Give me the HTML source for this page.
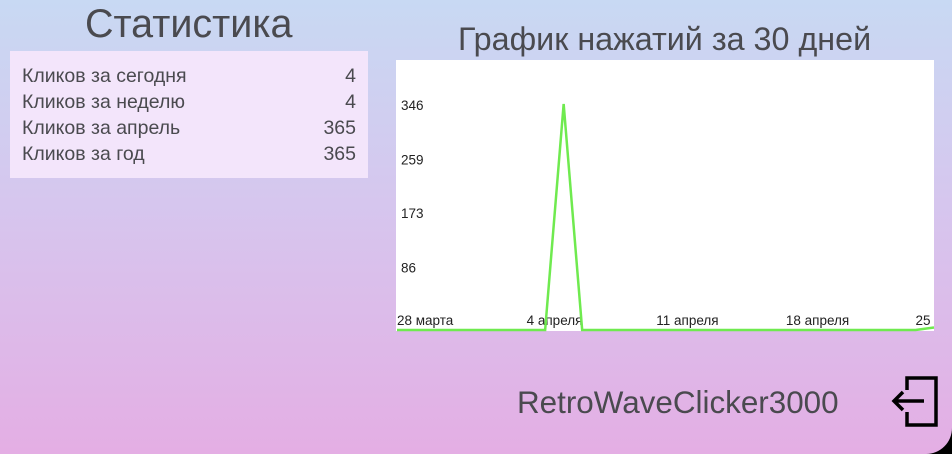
<!DOCTYPE html>
<html><head><meta charset="utf-8"><style>
body{margin:0;width:952px;height:454px;overflow:hidden;position:relative;font-family:"Liberation Sans","Noto Sans CJK SC",sans-serif;background:#000}
#bg{position:absolute;left:0;top:0;width:952px;height:454px;border-bottom-right-radius:26px;background:linear-gradient(180deg,#c8d9f3 0%,#d6c6ee 45%,#e4aee4 100%)}
.t{position:absolute;color:#4a4a4f;white-space:nowrap}
#stats{position:absolute;left:10px;top:51px;width:358px;height:127px;background:#f3e5fb}
.row{position:absolute;left:12px;width:334px;font-size:19.5px;color:#4a4a4f}
.row span{position:absolute;right:0}
</style></head><body>
<div id="bg"></div>
<div class="t" style="left:85px;top:2px;font-size:39.5px">Статистика</div>
<div id="stats">
<div class="row" style="top:14px">Кликов за сегодня<span>4</span></div>
<div class="row" style="top:40px">Кликов за неделю<span>4</span></div>
<div class="row" style="top:66px">Кликов за апрель<span>365</span></div>
<div class="row" style="top:92px">Кликов за год<span>365</span></div>
</div>
<div class="t" style="left:458px;top:21px;font-size:32.3px">График нажатий за 30 дней</div>
<svg id="chart" style="position:absolute;left:0;top:0" width="952" height="454"></svg>
<div class="t" style="left:517px;top:385px;font-size:31.4px">RetroWaveClicker3000</div>
<svg style="position:absolute;left:890px;top:374px" width="50" height="56">
<path d="M17 16 V4 H46 V51 H17 V38" fill="none" stroke="#000" stroke-width="3.5"/>
<path d="M4 27 H34 M13 18 L4 27 L13 36" fill="none" stroke="#000" stroke-width="3.5"/>
</svg>
<script>
const values=[0,0,0,0,0,0,0,0,0,361,0,0,0,0,0,0,0,0,0,0,0,0,0,0,0,0,0,0,0,4];
const yTicks=[86,173,259,346];
const xLabels=["28 марта","4 апреля","11 апреля","18 апреля","25"];
const xLabelIdx=[0,7,14,21,28];
const NS="http://www.w3.org/2000/svg";
const svg=document.getElementById('chart');
const L=396,R=934,T=60,B=331;
const x=i=>L+1+i*(R-L-1)/(values.length-1);
const y=v=>330-v*(226/361);
const yl=v=>321-v*(54/86.5);
const bg=document.createElementNS(NS,'rect');
bg.setAttribute('x',L);bg.setAttribute('y',T);bg.setAttribute('width',R-L);bg.setAttribute('height',B-T);bg.setAttribute('fill','#fff');


svg.appendChild(bg);
yTicks.forEach(v=>{const t=document.createElementNS(NS,'text');t.setAttribute('x',401);t.setAttribute('y',yl(v)+5);t.setAttribute('font-size','13.5');t.setAttribute('fill','#222');t.textContent=v;


svg.appendChild(t);});
xLabels.forEach((s,k)=>{const t=document.createElementNS(NS,'text');t.setAttribute('x',x(xLabelIdx[k])+(k==4?0:0));t.setAttribute('y',325);t.setAttribute('font-size','13.5');t.setAttribute('fill','#222');t.textContent=s;


svg.appendChild(t);});
const p=document.createElementNS(NS,'polyline');
p.setAttribute('points',values.map((v,i)=>x(i)+','+y(v)).join(' '));
p.setAttribute('fill','none');p.setAttribute('stroke','#6fea4f');p.setAttribute('stroke-width','2.5');


svg.appendChild(p);
</script>
</body></html>
